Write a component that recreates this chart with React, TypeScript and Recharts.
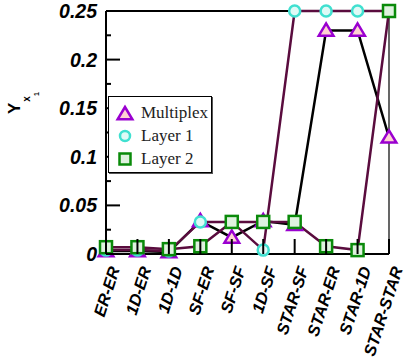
import React from "react"
import { LineChart, Line, XAxis, YAxis, ReferenceLine } from "recharts"

const categories = ["ER-ER", "1D-ER", "1D-1D", "SF-ER", "SF-SF", "1D-SF", "STAR-SF", "STAR-ER", "STAR-1D", "STAR-STAR"]
const multiplex = [0.003, 0.003, 0.002, 0.034, 0.017, 0.034, 0.03, 0.23, 0.23, 0.12]
const layer1 = [0.004, 0.004, 0.003, 0.033, 0.033, 0.004, 0.25, 0.25, 0.25, 0.25]
const layer2 = [0.007, 0.007, 0.005, 0.008, 0.033, 0.033, 0.033, 0.008, 0.004, 0.25]
const yTicks = [0, 0.025, 0.05, 0.075, 0.1, 0.125, 0.15, 0.175, 0.2, 0.225, 0.25]
const yLabels: Record<string, string> = { "0": "0", "0.05": "0.05", "0.1": "0.1", "0.15": "0.15", "0.2": "0.2", "0.25": "0.25" }

const data = categories.map((c, i) => ({ cat: c, multiplex: multiplex[i], layer1: layer1[i], layer2: layer2[i] }))

const LAYER_LINE = "#5a0c3e"

// recharts hands r/size to dot elements, so the marker sizes use their own prop names
function Triangle({ cx, cy, mk = 7 }: { cx?: number; cy?: number; mk?: number }) {
  if (cx == null || cy == null) return null
  const s = mk
  return (
    <polygon
      points={`${cx},${cy - s} ${cx - s * 1.05},${cy + s * 0.75} ${cx + s * 1.05},${cy + s * 0.75}`}
      fill="#ffd2d2"
      stroke="#9a00d0"
      strokeWidth={2.5}
    />
  )
}

function Circle({ cx, cy, mk = 5.5 }: { cx?: number; cy?: number; mk?: number }) {
  if (cx == null || cy == null) return null
  return <circle cx={cx} cy={cy} r={mk} fill="#dffaf6" stroke="#40e0d0" strokeWidth={2.5} />
}

function Square({ cx, cy, mk = 6 }: { cx?: number; cy?: number; mk?: number }) {
  if (cx == null || cy == null) return null
  return <rect x={cx - mk} y={cy - mk} width={mk * 2} height={mk * 2} fill="#dff2df" stroke="#0a8a0a" strokeWidth={2.5} />
}

function XTick({ x, y, payload }: any) {
  const ax = x + 14
  const ay = y + 15
  return (
    <g>
      <line x1={x} y1={y} x2={x} y2={y - 15} stroke="#000" strokeWidth={2} />
      <text
        x={ax}
        y={ay}
        transform={`rotate(-72 ${ax} ${ay})`}
        textAnchor="end"
        fontFamily="Liberation Sans, Arial, sans-serif"
        fontWeight="bold"
        fontStyle="italic"
        fontSize={16.5}
        fill="#000"
      >
        {payload.value}
      </text>
    </g>
  )
}

function YTick({ x, y, payload }: any) {
  const label = yLabels[String(payload.value)]
  const major = label !== undefined
  return (
    <g>
      <line x1={x} y1={y} x2={x + (major ? 14 : 5)} y2={y} stroke="#000" strokeWidth={2} />
      {major && (
        <text
          x={x - 9}
          y={y}
          dy="0.36em"
          textAnchor="end"
          fontFamily="Liberation Sans, Arial, sans-serif"
          fontWeight="bold"
          fontStyle="italic"
          fontSize={19.5}
          fill="#000"
        >
          {label}
        </text>
      )}
    </g>
  )
}

function LegendBox() {
  const rows = [
    { name: "Multiplex", icon: <Triangle cx={10} cy={11} mk={7} /> },
    { name: "Layer 1", icon: <Circle cx={10} cy={10} mk={5} /> },
    { name: "Layer 2", icon: <Square cx={10} cy={10} mk={5.5} /> },
  ]
  return (
    <div
      style={{
        position: "absolute",
        left: 108,
        top: 96,
        width: 104,
        height: 77,
        border: "1px solid #000",
        boxShadow: "1px 1px 0 #555",
        background: "#fff",
        boxSizing: "border-box",
        paddingTop: 4,
      }}
    >
      {rows.map((r) => (
        <div key={r.name} style={{ display: "flex", alignItems: "center", height: 23 }}>
          <svg width={20} height={20} style={{ marginLeft: 6 }}>
            {r.icon}
          </svg>
          <span style={{ fontFamily: "Liberation Serif, Times New Roman, serif", fontSize: 17, marginLeft: 6, color: "#222" }}>
            {r.name}
          </span>
        </div>
      ))}
    </div>
  )
}

export default function App() {
  return (
    <div style={{ position: "absolute", left: 0, top: 0, width: 405, height: 364, background: "#fff" }}>
      <LineChart width={405} height={364} data={data} margin={{ top: 11, right: 16, left: 0, bottom: 0 }}>
        <XAxis
          dataKey="cat"
          interval={0}
          tick={<XTick />}
          tickLine={false}
          tickSize={0}
          tickMargin={0}
          axisLine={{ stroke: "#000", strokeWidth: 2 }}
          height={110}
        />
        <YAxis
          type="number"
          domain={[0, 0.25]}
          ticks={yTicks}
          interval={0}
          tick={<YTick />}
          tickLine={false}
          tickSize={0}
          tickMargin={0}
          axisLine={{ stroke: "#000", strokeWidth: 2 }}
          width={106}
          label={
            <text x={27} y={140} transform="rotate(-90 27 140)" textAnchor="start" fontFamily="Liberation Sans, Arial, sans-serif" fontWeight="bold" fill="#000">
              <tspan fontSize={17}>Y</tspan>
              <tspan fontSize={10} dy={10} dx={1}>x</tspan>
              <tspan fontSize={7} dy={9}>1</tspan>
            </text>
          }
        />
        <ReferenceLine y={0.25} stroke="#000" strokeWidth={2} ifOverflow="visible" />
        <ReferenceLine x="STAR-STAR" stroke="#000" strokeWidth={1.2} ifOverflow="visible" />
        <Line dataKey="multiplex" stroke="#000" strokeWidth={2.5} dot={<Triangle />} activeDot={false} isAnimationActive={false} />
        <Line dataKey="layer1" stroke={LAYER_LINE} strokeWidth={2.5} dot={<Circle />} activeDot={false} isAnimationActive={false} />
        <Line dataKey="layer2" stroke={LAYER_LINE} strokeWidth={2.5} dot={<Square />} activeDot={false} isAnimationActive={false} />
      </LineChart>
      <LegendBox />
    </div>
  )
}
